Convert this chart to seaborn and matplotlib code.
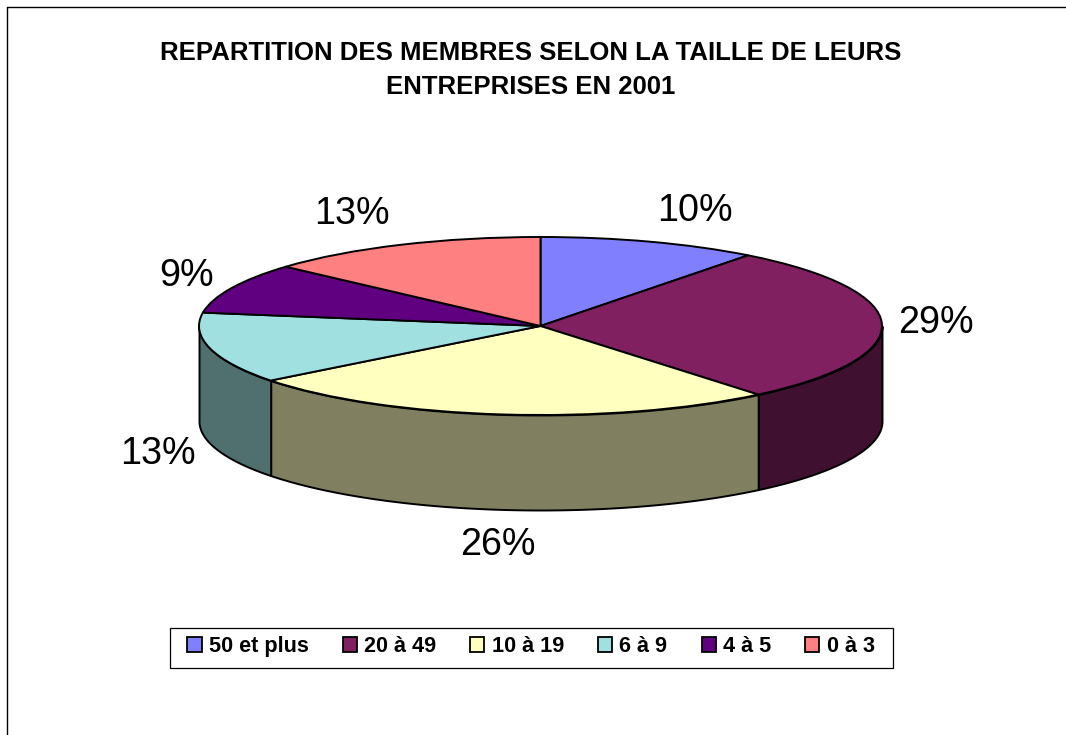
import numpy as np
import matplotlib
matplotlib.use("Agg")
import matplotlib.pyplot as plt
from matplotlib.lines import Line2D
from matplotlib.patches import Patch, Rectangle
from matplotlib.transforms import Affine2D
import seaborn as sns

categories = ["50 et plus", "20 à 49", "10 à 19", "6 à 9", "4 à 5", "0 à 3"]
values = [10.4, 28.6, 25.5, 12.9, 9.2, 13.4]
top_colors = ["#8080FF", "#802060", "#FFFFC0", "#A0E0E0", "#600080", "#FF8080"]
title = "REPARTITION DES MEMBRES SELON LA TAILLE DE LEURS\nENTREPRISES EN 2001"

W, H = 1066, 735
CX, CY, RX, RY, DEPTH = 540.5, 326, 341.5, 89, 95

sns.set_theme(style="white")
plt.rcParams["font.family"] = ["Liberation Sans", "DejaVu Sans"]
palette = sns.color_palette(top_colors)
wall_colors = [tuple(c * 0.5 for c in col) for col in palette]

fig = plt.figure(figsize=(W / 100, H / 100), dpi=100, facecolor="white")
ax = fig.add_axes([0, 0, 1, 1])
px = Affine2D().scale(1, -1).translate(0, H)

wedges, _ = ax.pie(values, colors=palette, startangle=90, counterclock=False,
                   radius=1, wedgeprops=dict(edgecolor="black", linewidth=1.4, zorder=3))
ax.set_aspect("auto")
ax.set_xlim(-CX / RX, (W - CX) / RX)
ax.set_ylim((CY - H) / RY, CY / RY)
ax.axis("off")

# side wall of the disc: only the front half (180..360 degrees) is visible
fracs = np.cumsum([0] + values) / sum(values)
for i, col in enumerate(wall_colors):
    a1 = 90 - 360 * fracs[i]
    a2 = 90 - 360 * fracs[i + 1]
    lo, hi = max(a2, -180), min(a1, 0)
    if lo >= hi:
        continue
    th = np.radians(np.linspace(lo, hi, 80))
    x, y = np.cos(th), np.sin(th)
    ax.fill_between(x, y, y - DEPTH / RY, facecolor=col, edgecolor="black",
                    linewidth=1.4, zorder=2)

# percentage labels
label_xy = [(695, 211), (936, 323), (498, 545), (158, 454), (187, 276), (352, 214)]
for v, (lx, ly) in zip(values, label_xy):
    ax.text(lx, ly, f"{v:.0f}%", transform=px, fontsize=27.2, ha="center", va="center",
            color="black", zorder=5)

ax.text(530.5, 70, title, transform=px, fontsize=18.5, fontweight="bold", ha="center",
        va="center", linespacing=1.55, color="black")

# chart-area frame (only left and top visible)
for xs, ys in [((7, 7), (7, 735)), ((7, 1066), (7, 7))]:
    fig.add_artist(Line2D(xs, ys, color="black", linewidth=1.0, transform=px))

# legend frame and legend
ax.add_patch(Rectangle((169.5, 627.5), 723, 40.5, transform=px, facecolor="white",
                       edgecolor="black", linewidth=0.9, clip_on=False, zorder=6))
handles = [Patch(facecolor=c, edgecolor="black", linewidth=1.3) for c in palette]
leg = ax.legend(handles, categories, ncol=6, loc="center",
                bbox_to_anchor=(531, 646.5), bbox_transform=px,
                prop=dict(family="Liberation Sans", weight="bold", size=15.6),
                labelcolor="black", frameon=False,
                handlelength=0.65, handleheight=0.65, handletextpad=0.33,
                columnspacing=1.58, borderpad=0, borderaxespad=0, labelspacing=0)
leg.set_zorder(7)

fig.savefig("out.png", dpi=100, facecolor="white")
